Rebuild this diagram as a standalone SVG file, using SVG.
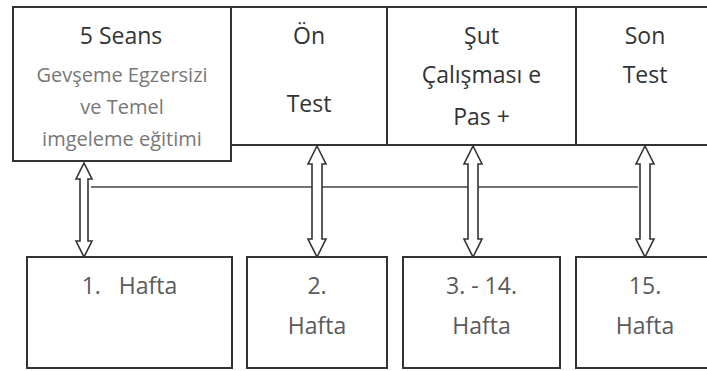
<svg xmlns="http://www.w3.org/2000/svg" width="707" height="371" viewBox="0 0 707 371">
<style>
.box{fill:#fff;stroke:#333;stroke-width:2}
.t{font-family:"Open Sans","Noto Sans",sans-serif;font-size:23px;fill:#333;text-anchor:middle}
.g{font-family:"Open Sans","Noto Sans",sans-serif;font-size:20px;fill:#777;text-anchor:middle}
.b{font-family:"Open Sans","Noto Sans",sans-serif;font-size:23px;fill:#5a5a5a;text-anchor:middle}
.arr{fill:#fff;stroke:#333;stroke-width:1.6;stroke-linejoin:miter}
.ln{stroke:#444;stroke-width:1.6;fill:none}
</style>
<rect width="707" height="371" fill="#fff"/>
<g id="top-row">
<g id="n-on"><rect class="box" x="231" y="7" width="156" height="138"/>
<text class="t" x="309" y="44">Ön</text><text class="t" x="309" y="112">Test</text></g>
<g id="n-sut"><rect class="box" x="387" y="7" width="189" height="138"/>
<text class="t" x="481.5" y="44">Şut</text><text class="t" x="481.5" y="83">Çalışması e</text><text class="t" x="481.5" y="125">Pas +</text></g>
<g id="n-son"><rect class="box" x="576" y="7" width="150" height="138"/>
<text class="t" x="645" y="44">Son</text><text class="t" x="645" y="83">Test</text></g>
<g id="n-seans"><rect class="box" x="13" y="7" width="218" height="154"/>
<text class="t" x="121" y="44">5 Seans</text>
<text class="g" x="122" y="82">Gevşeme Egzersizi</text>
<text class="g" x="122" y="114">ve Temel</text>
<text class="g" x="122" y="146">imgeleme eğitimi</text></g>
</g>
<g id="connectors">
<line class="ln" x1="91" y1="187" x2="638" y2="187"/>
<polygon class="arr" points="84,163 92,179 88,179 88,241 92,241 84,257 76,241 80,241 80,179 76,179"/>
<polygon class="arr" points="317,146 326,164 322,164 322,239 326,239 317,257 308,239 312,239 312,164 308,164"/>
<polygon class="arr" points="473,146 482,164 478,164 478,239 482,239 473,257 464,239 468,239 468,164 464,164"/>
<polygon class="arr" points="645,146 654,164 650,164 650,239 654,239 645,257 636,239 640,239 640,164 636,164"/>
</g>
<g id="n-w1"><rect class="box" x="27" y="257" width="205" height="111"/>
<text class="b" x="129.5" y="294">1.&#160;&#160; Hafta</text></g>
<g id="n-w2"><rect class="box" x="247" y="257" width="140" height="111"/>
<text class="b" x="317" y="294">2.</text><text class="b" x="317" y="334">Hafta</text></g>
<g id="n-w3"><rect class="box" x="403" y="257" width="157" height="111"/>
<text class="b" x="481.5" y="294">3. - 14.</text><text class="b" x="481.5" y="334">Hafta</text></g>
<g id="n-w4"><rect class="box" x="576" y="257" width="150" height="111"/>
<text class="b" x="645" y="294">15.</text><text class="b" x="645" y="334">Hafta</text></g>
</svg>
